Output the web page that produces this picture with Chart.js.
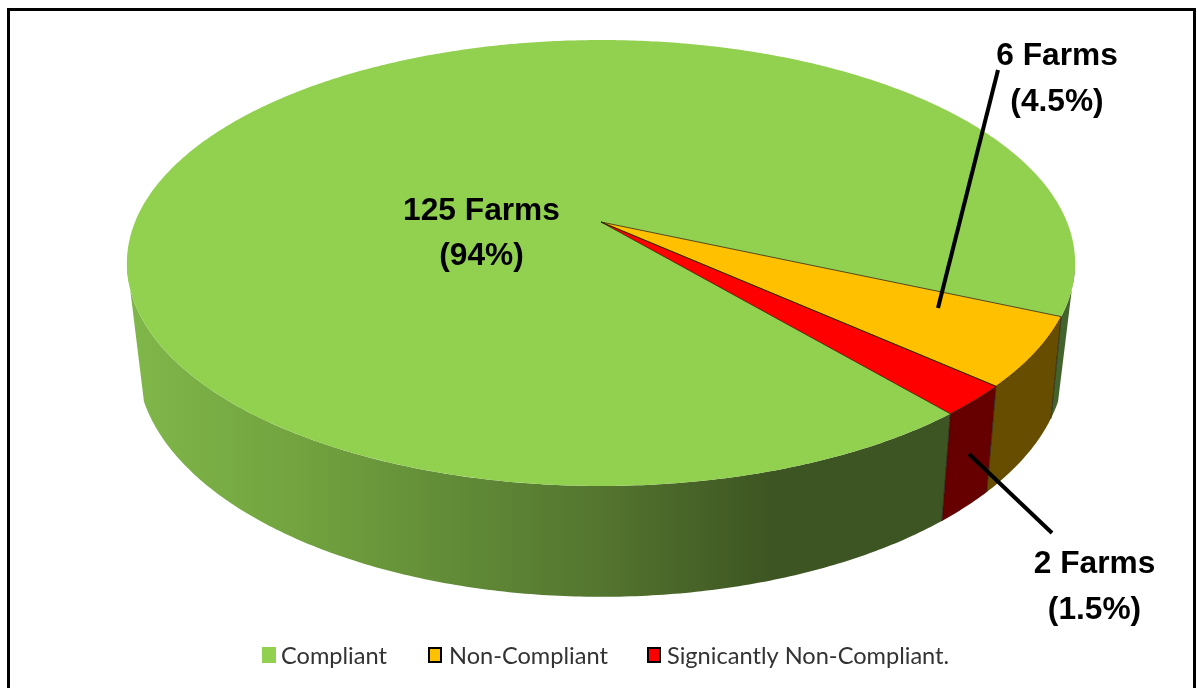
<!DOCTYPE html>
<html>
<head>
<meta charset="utf-8">
<style>
html,body{margin:0;padding:0;background:#fff;overflow:hidden;width:1197px;height:688px}
#frame{position:absolute;left:7px;top:8px;width:1183px;height:700px;border:3px solid #000;box-sizing:content-box;pointer-events:none}
canvas{position:absolute;left:0;top:0}
</style>
<script src="https://cdn.jsdelivr.net/npm/chart.js@4"></script>
</head>
<body>
<canvas id="c" width="1197" height="688"></canvas>
<div id="frame"></div>
<script>
const categories = ['Compliant', 'Non-Compliant', 'Signicantly Non-Compliant.'];
const drawnShares = [92.8, 5.0, 2.2];
const labelLines = [['125 Farms', '(94%)'], ['6 Farms', '(4.5%)'], ['2 Farms', '(1.5%)']];
const topColors = ['#92d050', '#ffc000', '#ff0000'];
const wallColors = [null, '#664d00', '#660000'];

const P = {cx:601, cy:222, R:466, b:174.6, k:-0.1839, m:0.021, D:103};
function project(a, z){
  const u=Math.cos(a), v=Math.sin(a), w=1+P.k*v+P.m*z;
  return [P.cx+P.R*u/w, (P.cy+P.b*v+P.D*z)/w];
}
function rimPoints(a0,a1,z){
  const n=Math.max(2,Math.ceil(Math.abs(a1-a0)/0.01)), pts=[];
  for(let i=0;i<=n;i++) pts.push(project(a0+(a1-a0)*i/n,z));
  return pts;
}
function trace(ctx,pts,first){
  pts.forEach((p,i)=>{ if(i===0&&first) ctx.moveTo(p[0],p[1]); else ctx.lineTo(p[0],p[1]); });
}
const DEG=Math.PI/180, TAU=Math.PI*2;
// visible wall limits: the silhouette rulings run from the top rim to a lower point of the bottom rim
const TOP0=10.6*DEG, TOP1=169.4*DEG, BOT0=20*DEG, BOT1=160*DEG;

const labelBoxes = [
  {x:481.5,y:[211,256]},
  {x:1057,y:[56,102]},
  {x:1094.5,y:[564,610]}
];
const leaders = [null, [[998,70],[938,308]], [[969,454],[1052,533]]];
const legendSlots = [{box:262,text:281,border:0},{box:428,text:449,border:2},{box:647,text:667,border:2}];

const pie3d = {
  id:'pie3d',
  beforeDatasetDraw(chart,args){
    const ctx=chart.ctx, els=chart.getDatasetMeta(args.index).data;
    ctx.save();
    const grad=ctx.createLinearGradient(127,0,1075,0);
    grad.addColorStop(0,'#80b74a');
    grad.addColorStop(0.18,'#72a33f');
    grad.addColorStop(0.39,'#5d8535');
    grad.addColorStop(0.5,'#54752f');
    grad.addColorStop(0.68,'#3d5522');
    grad.addColorStop(0.86,'#3d5522');
    grad.addColorStop(1,'#44652e');
    els.forEach((el,i)=>{
      for(let t=-1;t<=1;t++){
        const s=el.startAngle+t*TAU, e=el.endAngle+t*TAU;
        const t0=Math.max(s,TOP0), t1=Math.min(e,TOP1);
        if(t1<=t0) continue;
        const b0=Math.max(s,BOT0), b1=Math.min(e,BOT1);
        ctx.beginPath();
        trace(ctx,rimPoints(t0,t1,0),true);
        trace(ctx,rimPoints(b1,b0,1),false);
        ctx.closePath();
        ctx.fillStyle=wallColors[i]||grad;
        ctx.fill();
      }
    });
    ctx.strokeStyle='rgba(30,30,20,0.75)';
    ctx.lineWidth=1;
    els.forEach(el=>{
      const p=project(el.startAngle,0), q=project(el.startAngle,1);
      ctx.beginPath();ctx.moveTo(p[0],p[1]);ctx.lineTo(q[0],q[1]);ctx.stroke();
    });
    els.forEach((el,i)=>{
      ctx.beginPath();
      ctx.moveTo(P.cx,P.cy);
      trace(ctx,rimPoints(el.startAngle,el.endAngle,0),false);
      ctx.closePath();
      ctx.fillStyle=topColors[i];
      ctx.fill();
    });
    els.slice(1).forEach(el=>{
      ctx.beginPath();
      ctx.moveTo(P.cx,P.cy);
      trace(ctx,rimPoints(el.startAngle,el.endAngle,0),false);
      ctx.closePath();
      ctx.strokeStyle='rgba(50,35,0,0.8)';
      ctx.lineWidth=1;
      ctx.stroke();
    });
    ctx.restore();
    return false;
  },
  afterDatasetsDraw(chart){
    const ctx=chart.ctx;
    ctx.save();
    ctx.strokeStyle='#000';ctx.lineWidth=4;
    leaders.forEach(l=>{
      if(!l) return;
      ctx.beginPath();ctx.moveTo(l[0][0],l[0][1]);ctx.lineTo(l[1][0],l[1][1]);ctx.stroke();
    });
    ctx.fillStyle='#000';
    ctx.font='bold 31.7px "Liberation Sans", Arial, sans-serif';
    ctx.textAlign='center';ctx.textBaseline='middle';
    labelLines.forEach((lines,i)=>{
      lines.forEach((t,j)=>ctx.fillText(t,labelBoxes[i].x,labelBoxes[i].y[j]));
    });
    ctx.textAlign='left';
    ctx.font='23.6px Lato, sans-serif';
    categories.forEach((t,i)=>{
      const s=legendSlots[i];
      ctx.fillStyle=topColors[i];
      ctx.fillRect(s.box,647,14,16);
      if(s.border){ctx.strokeStyle='#000';ctx.lineWidth=s.border;ctx.strokeRect(s.box+1,648,12,14);}
      ctx.fillStyle='#333';
      ctx.fillText(t,s.text,656);
    });
    ctx.restore();
  }
};

new Chart(document.getElementById('c'),{
  type:'pie',
  data:{labels:categories,datasets:[{data:drawnShares,backgroundColor:topColors,borderWidth:0}]},
  options:{
    responsive:false,animation:false,
    rotation:139.9,
    plugins:{tooltip:{enabled:false},legend:{display:false}}
  },
  plugins:[pie3d]
});
</script>
</body>
</html>
